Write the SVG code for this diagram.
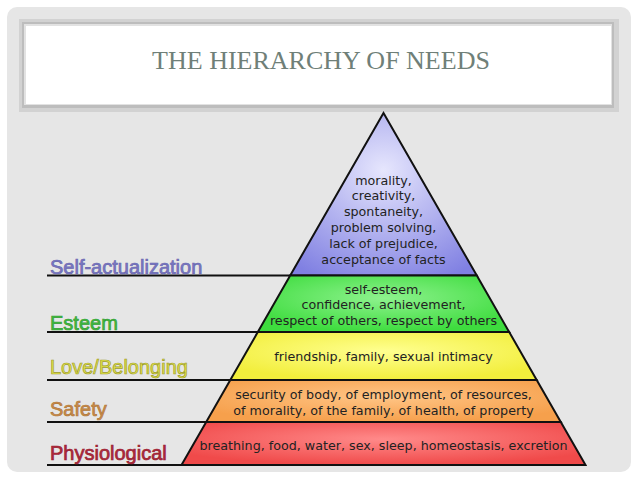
<svg xmlns="http://www.w3.org/2000/svg" width="638" height="479" viewBox="0 0 638 479">
  <defs>
    <radialGradient id="gTop" cx="0.5" cy="0.35" r="0.75">
      <stop offset="0" stop-color="#e6e6fd"/>
      <stop offset="1" stop-color="#8080e2"/>
    </radialGradient>
    <radialGradient id="gEsteem" cx="0.5" cy="0.4" r="0.6">
      <stop offset="0" stop-color="#8ef28e"/>
      <stop offset="1" stop-color="#3edc3e"/>
    </radialGradient>
    <radialGradient id="gLove" cx="0.5" cy="0.4" r="0.6">
      <stop offset="0" stop-color="#ffff90"/>
      <stop offset="1" stop-color="#f2ee3c"/>
    </radialGradient>
    <radialGradient id="gSafety" cx="0.5" cy="0.4" r="0.6">
      <stop offset="0" stop-color="#ffc586"/>
      <stop offset="1" stop-color="#f6a04c"/>
    </radialGradient>
    <radialGradient id="gPhys" cx="0.5" cy="0.4" r="0.6">
      <stop offset="0" stop-color="#ff8a8a"/>
      <stop offset="1" stop-color="#f04a4a"/>
    </radialGradient>
  </defs>
  <style>
    .tier { stroke: #111; stroke-width: 2; stroke-linejoin: miter; }
    .txt { font-family: "DejaVu Sans", Verdana, sans-serif; font-size: 12.7px; fill: #222; text-anchor: middle; }
    .lbl { font-family: "Liberation Sans", Arial, sans-serif; font-size: 20px; stroke-width: 0.7; }
    .lead { stroke: #111; stroke-width: 2; fill: none; }
  </style>

  <rect x="0" y="0" width="638" height="479" fill="#ffffff"/>
  <rect x="7" y="7" width="624" height="465" rx="10" ry="10" fill="#e6e6e6"/>

  <g id="title">
    <rect x="19" y="19" width="600" height="93" fill="#d2d2d2"/>
    <rect x="22" y="22" width="592" height="86" fill="#bdbdbd"/>
    <rect x="24" y="24" width="588" height="81" fill="#e2e2e2"/>
    <rect x="26" y="26" width="585" height="78" fill="#ffffff"/>
    <text x="321" y="69" font-family="'Liberation Serif', 'Times New Roman', serif" font-size="26" fill="#6f7f78" text-anchor="middle">THE HIERARCHY OF NEEDS</text>
  </g>

  <g id="connectors">
    <line class="lead" x1="47" y1="275.5" x2="291" y2="275.5"/>
    <line class="lead" x1="47" y1="332" x2="258.5" y2="332"/>
    <line class="lead" x1="47" y1="380" x2="231" y2="380"/>
    <line class="lead" x1="47" y1="422" x2="207" y2="422"/>
    <line class="lead" x1="47" y1="465" x2="182" y2="465"/>
  </g>

  <g id="tier-self-actualization">
    <polygon class="tier" fill="url(#gTop)" points="383.5,113 476.8,275.5 290.2,275.5"/>
    <text class="txt" x="383.5" y="184.5">morality,</text>
    <text class="txt" x="383.5" y="200.3">creativity,</text>
    <text class="txt" x="383.5" y="216.1">spontaneity,</text>
    <text class="txt" x="383.5" y="231.9">problem solving,</text>
    <text class="txt" x="383.5" y="247.7">lack of prejudice,</text>
    <text class="txt" x="383.5" y="263.5">acceptance of facts</text>
  </g>

  <g id="tier-esteem">
    <polygon class="tier" fill="url(#gEsteem)" points="290.2,275.5 476.8,275.5 509.2,332 257.8,332"/>
    <text class="txt" x="383.5" y="293.5">self-esteem,</text>
    <text class="txt" x="383.5" y="309">confidence, achievement,</text>
    <text class="txt" x="383.5" y="324.5">respect of others, respect by others</text>
  </g>

  <g id="tier-love">
    <polygon class="tier" fill="url(#gLove)" points="257.8,332 509.2,332 536.7,380 230.3,380"/>
    <text class="txt" x="383.5" y="361">friendship, family, sexual intimacy</text>
  </g>

  <g id="tier-safety">
    <polygon class="tier" fill="url(#gSafety)" points="230.3,380 536.7,380 560.8,422 206.2,422"/>
    <text class="txt" x="383.5" y="399">security of body, of employment, of resources,</text>
    <text class="txt" x="383.5" y="414.5">of morality, of the family, of health, of property</text>
  </g>

  <g id="tier-physiological">
    <polygon class="tier" fill="url(#gPhys)" points="206.2,422 560.8,422 585.5,465 181.5,465"/>
    <text class="txt" x="383.5" y="449.5">breathing, food, water, sex, sleep, homeostasis, excretion</text>
  </g>

  <g id="label-self-actualization">
    <text class="lbl" x="50" y="273.5" fill="#7a78c4" stroke="#6a68b0">Self-actualization</text>
  </g>
  <g id="label-esteem">
    <text class="lbl" x="50" y="329.5" fill="#40bb40" stroke="#34a034">Esteem</text>
  </g>
  <g id="label-love">
    <text class="lbl" x="50" y="373.5" fill="#e6e648" stroke="#9c9c2c">Love/Belonging</text>
  </g>
  <g id="label-safety">
    <text class="lbl" x="50" y="416" fill="#cc8c4c" stroke="#b07838">Safety</text>
  </g>
  <g id="label-physiological">
    <text class="lbl" x="50" y="460" fill="#b02a3c" stroke="#982030">Physiological</text>
  </g>
</svg>
